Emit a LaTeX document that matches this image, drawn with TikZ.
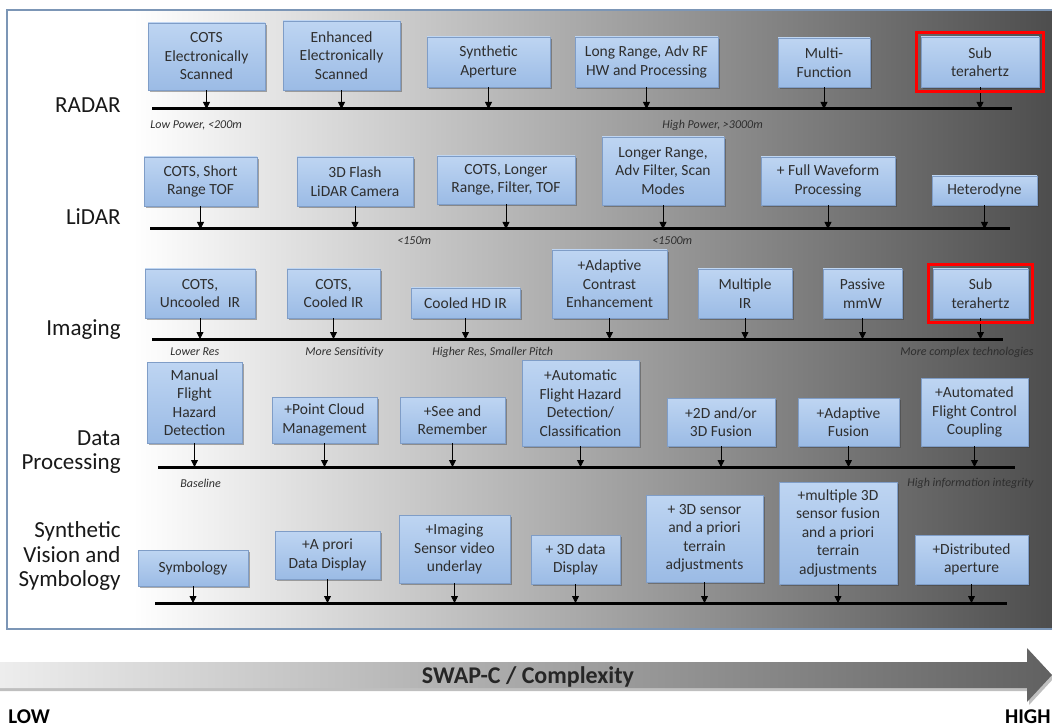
\documentclass[tikz,border=0pt]{standalone}
\usepackage{fontspec}
\setmainfont{Carlito}
\usetikzlibrary{arrows.meta,shadows,fit}
\definecolor{boxtop}{HTML}{BED5F2}
\definecolor{boxbot}{HTML}{9BBBE5}
\definecolor{boxline}{HTML}{7F9DC7}
\definecolor{frameline}{HTML}{7C96B6}
\definecolor{inktxt}{HTML}{2E2E2E}
\pgfdeclarehorizontalshading{panelshade}{100bp}{color(0bp)=(white); color(31bp)=(white); color(75bp)=(black!70); color(100bp)=(black!70)}
\begin{document}
\begin{tikzpicture}[x=1pt, y=-1pt, line width=0.8pt,
  box/.style={draw=boxline, line width=0.6pt, top color=boxtop, bottom color=boxbot, text=inktxt,
    align=center, inner sep=2pt, font=\fontsize{15.5}{18.5}\selectfont,
    drop shadow={shadow xshift=2pt, shadow yshift=-2pt, opacity=0.4, fill=black!80}},
  rowlabel/.style={anchor=east, align=right, inner sep=0pt, text=black!90, font=\fontsize{23}{24.5}\selectfont},
  note/.style={inner sep=0pt, text=inktxt, font=\fontsize{12}{14}\selectfont\itshape},
  timeline/.style={line width=3pt},
  tick/.style={-{Triangle[width=7pt,length=7pt]}, line width=0.8pt},
  hilite/.style={draw=red, line width=3pt, inner sep=4pt}]
  \useasboundingbox (0,0) rectangle (1052,727);
  \shadedraw[shading=panelshade, draw=frameline, line width=1.2pt] (7,10) rectangle (1056,629);

  \node[rowlabel] (radar) at (121,105) {RADAR};
  \coordinate (radarL) at (152,109);
  \coordinate (radarR) at (1012,109);
  \draw[timeline] (radarL) -- (radarR);
  \foreach \n/\x/\y/\w/\h/\lbl in {
    r1/206.5/56.5/117/67/{COTS\\Electronically\\Scanned},
    r2/341.5/55.5/117/69/{Enhanced\\Electronically\\Scanned},
    r3/488.5/62/123/50/{Synthetic\\Aperture},
    r4/646.5/62/143/50/{Long Range, Adv RF\\HW and Processing},
    r5/824/62.5/92/49/{Multi-\\Function},
    r6/980/62/118/50/{Sub\\terahertz}}
  {
    \node[box, minimum width=\w, minimum height=\h] (\n) at (\x,\y) {\lbl};
    \draw[tick] (\n) -- (\n |- radarL);
  }
  \node[hilite, fit=(r6)] (r6hl) {};
  \node[note, anchor=west] (radarlow) at (150,125) {Low Power, <200m};
  \node[note, anchor=west] (radarhigh) at (662,125) {High Power, >3000m};

  \node[rowlabel] (lidar) at (121,217) {LiDAR};
  \coordinate (lidarL) at (150,229);
  \coordinate (lidarR) at (1010,229);
  \draw[timeline] (lidarL) -- (lidarR);
  \foreach \n/\x/\y/\w/\h/\lbl in {
    l1/200.5/181.5/113/49/{COTS, Short\\Range TOF},
    l2/355/181.5/116/49/{3D Flash\\LiDAR Camera},
    l3/506/180/138/48/{COTS, Longer\\Range, Filter, TOF},
    l4/663/171/122/68/{Longer Range,\\Adv Filter, Scan\\Modes},
    l5/828/181/134/48/{+ Full Waveform\\Processing},
    l6/984.5/190.5/105/29/{Heterodyne}}
  {
    \node[box, minimum width=\w, minimum height=\h] (\n) at (\x,\y) {\lbl};
    \draw[tick] (\n) -- (\n |- lidarL);
  }
  \node[note, anchor=west] (lidarnear) at (397,241) {<150m};
  \node[note, anchor=west] (lidarfar) at (652,241) {<1500m};

  \node[rowlabel] (imaging) at (121,330) {Imaging};
  \coordinate (imagingL) at (152,339);
  \coordinate (imagingR) at (1003,339);
  \draw[timeline] (imagingL) -- (imagingR);
  \foreach \n/\x/\y/\w/\h/\lbl in {
    i1/200/293.5/110/49/{COTS,\\Uncooled\enspace IR},
    i2/333.5/293.5/93/49/{COTS,\\Cooled IR},
    i3/465.5/303/109/30/{Cooled HD IR},
    i4/609.5/284/115/68/{+Adaptive\\Contrast\\Enhancement},
    i5/745/293.5/94/49/{Multiple\\IR},
    i6/862.5/293.5/79/49/{Passive\\mmW},
    i7/980.5/293.5/95/49/{Sub\\terahertz}}
  {
    \node[box, minimum width=\w, minimum height=\h] (\n) at (\x,\y) {\lbl};
    \draw[tick] (\n) -- (\n |- imagingL);
  }
  \node[hilite, fit=(i7)] (i7hl) {};
  \node[note, anchor=west] (imglow) at (170,352) {Lower Res};
  \node[note, anchor=west] (imgsens) at (305,352) {More Sensitivity};
  \node[note, anchor=west] (imghigh) at (432,352) {Higher Res, Smaller Pitch};
  \node[note, anchor=east] (imgcomplex) at (1034,352) {More complex technologies};

  \node[rowlabel] (dataproc) at (121,452) {Data\\Processing};
  \coordinate (dataL) at (158,467);
  \coordinate (dataR) at (1015,467);
  \draw[timeline] (dataL) -- (dataR);
  \foreach \n/\x/\y/\w/\h/\lbl in {
    d1/194.5/402.5/95/81/{Manual\\Flight\\Hazard\\Detection},
    d2/324.5/420/105/46/{+Point Cloud\\Management},
    d3/452.5/420/105/46/{+See and\\Remember},
    d4/580.5/403/117/86/{+Automatic\\Flight Hazard\\Detection/\\Classification},
    d5/721/422/108/48/{+2D and/or\\3D Fusion},
    d6/848.5/422/101/48/{+Adaptive\\Fusion},
    d7/974.5/412/107/68/{+Automated\\Flight Control\\Coupling}}
  {
    \node[box, minimum width=\w, minimum height=\h] (\n) at (\x,\y) {\lbl};
    \draw[tick] (\n) -- (\n |- dataL);
  }
  \node[note, anchor=west] (database) at (180,483) {Baseline};
  \node[note, anchor=east] (dataint) at (1034,483) {High information integrity};

  \node[rowlabel] (svs) at (121,556) {Synthetic\\Vision and\\Symbology};
  \coordinate (svsL) at (155,603);
  \coordinate (svsR) at (1007,603);
  \draw[timeline] (svsL) -- (svsR);
  \foreach \n/\x/\y/\w/\h/\lbl in {
    s1/193/568/110/36/{Symbology},
    s2/327.5/555/105/48/{+A prori\\Data Display},
    s3/454.5/549/111/68/{+Imaging\\Sensor video\\underlay},
    s4/575.5/559.5/89/49/{+ 3D data\\Display},
    s5/704.5/538.5/117/87/{+ 3D sensor\\and a priori\\terrain\\adjustments},
    s6/838/533/118/102/{+multiple 3D\\sensor fusion\\and a priori\\terrain\\adjustments},
    s7/971.5/559.5/113/49/{+Distributed\\aperture}}
  {
    \node[box, minimum width=\w, minimum height=\h] (\n) at (\x,\y) {\lbl};
    \draw[tick] (\n) -- (\n |- svsL);
  }

  \fill[black, opacity=0.25] (0,665) -- (1029,665) -- (1029,651) -- (1054,678) -- (1029,705) -- (1029,691) -- (0,691) -- cycle;
  \shade[left color=black!7, right color=black!62] (0,662) -- (1027,662) -- (1027,648) -- (1052,675) -- (1027,702) -- (1027,688) -- (0,688) -- cycle;
  \node[text=black!85, font=\fontsize{24}{28}\selectfont\bfseries] (swapc) at (528,677) {SWAP-C / Complexity};
  \node[anchor=west, inner sep=0pt, font=\fontsize{21}{23}\selectfont\bfseries] (low) at (8,717) {LOW};
  \node[anchor=east, inner sep=0pt, font=\fontsize{21}{23}\selectfont\bfseries] (high) at (1051,717) {HIGH};
\end{tikzpicture}
\end{document}
